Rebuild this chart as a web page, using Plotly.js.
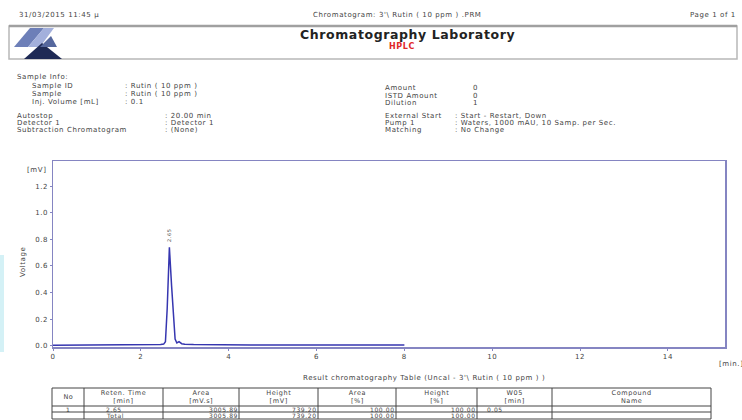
<!DOCTYPE html>
<html>
<head>
<meta charset="utf-8">
<script src="https://cdn.plot.ly/plotly-3.0.1.min.js"></script>
<style>
html,body{margin:0;padding:0;background:#fff;}
#chart{width:742px;height:420px;}
#chart text{letter-spacing:0.6px;}
</style>
</head>
<body>
<div id="chart"></div>
<script>
// ---- data ----
const retentionTime = [0, 1, 2, 2.3, 2.45, 2.52, 2.56, 2.60, 2.65, 2.70, 2.74, 2.78, 2.82, 2.87, 2.93, 3.0, 3.2, 3.6, 4.5, 6, 8];
const voltage       = [0.004, 0.004, 0.005, 0.006, 0.009, 0.012, 0.03, 0.28, 0.74, 0.45, 0.20, 0.05, 0.02, 0.03, 0.015, 0.01, 0.008, 0.006, 0.005, 0.005, 0.005];
const peakLabels = ["2.65"];
const peakTimes = [2.65];
const peakHeights = [0.74];

const xTickVals = [0, 2, 4, 6, 8, 10, 12, 14];
const yTickVals = [0.0, 0.2, 0.4, 0.6, 0.8, 1.0, 1.2];

const infoLeftLabels = ["Sample ID", "Sample", "Inj. Volume [mL]"];
const infoLeftValues = [": Rutin ( 10 ppm )", ": Rutin ( 10 ppm )", ": 0.1"];
const infoLeft2Labels = ["Autostop", "Detector 1", "Subtraction Chromatogram"];
const infoLeft2Values = [": 20.00 min", ": Detector 1", ": (None)"];
const infoRightLabels = ["Amount", "ISTD Amount", "Dilution"];
const infoRightValues = ["0", "0", "1"];
const infoRight2Labels = ["External Start", "Pump 1", "Matching"];
const infoRight2Values = [": Start - Restart, Down", ": Waters, 1000 mAU, 10 Samp. per Sec.", ": No Change"];

const tableHeaders = ["No", "Reten. Time<br>[min]", "Area<br>[mV.s]", "Height<br>[mV]", "Area<br>[%]", "Height<br>[%]", "W05<br>[min]", "Compound<br>Name"];
const tableRow1 = ["1", "2.65", "3005.89", "739.20", "100.00", "100.00", "0.05", ""];
const tableTotal = ["", "Total", "3005.89", "739.20", "100.00", "100.00", "", ""];

// ---- layout helpers (pixel -> paper) ----
const L = 53, R = 725, T = 161, B = 347;
const px = x => (x - L) / (R - L);
const py = y => (B - y) / (B - T);
const TXT = '#444444';
const FONT = 'DejaVu Sans, Verdana, sans-serif';

const annotations = [];
const shapes = [];
function txt(x, y, text, opts) {
  opts = opts || {};
  annotations.push({
    xref: 'paper', yref: 'paper', x: px(x), y: py(y), text: text, showarrow: false,
    xanchor: opts.anchor || 'left', yanchor: 'middle',
    font: {family: FONT, size: opts.size || 7, color: opts.color || TXT, weight: opts.weight || 'normal'},
    align: opts.align || 'left'
  });
}
function line(x0, y0, x1, y1, color, w) {
  shapes.push({type: 'line', xref: 'paper', yref: 'paper', x0: px(x0), y0: py(y0), x1: px(x1), y1: py(y1),
    line: {color: color || '#555', width: w || 1}});
}
function poly(points, color) {
  const d = 'M' + points.map(p => px(p[0]) + ',' + py(p[1])).join(' L') + ' Z';
  shapes.push({type: 'path', xref: 'paper', yref: 'paper', path: d, fillcolor: color, line: {width: 0}});
}

// header
txt(17, 15, '31/03/2015 11:45 μ');
txt(385, 15, "Chromatogram: 3'\\ Rutin ( 10 ppm ) .PRM", {anchor: 'center'});
txt(731, 15, 'Page 1 of 1', {anchor: 'right'});
shapes.push({type: 'rect', xref: 'paper', yref: 'paper', x0: px(9), y0: py(26), x1: px(737), y1: py(59),
  line: {color: '#b8b8b8', width: 1.5}, fillcolor: 'rgba(0,0,0,0)'});
line(9, 26, 737, 26, '#a0a0a0', 2.5);
poly([[14, 47], [30, 28], [44, 28], [28, 47]], '#6d7fb8');
poly([[28, 47], [44, 28], [54, 28], [40, 47]], '#a3b0dc');
poly([[24, 59], [42, 43], [62, 59]], '#1e2a55');
poly([[40, 47], [51, 36], [57, 47]], '#56689e');
txt(400, 35, 'Chromatography Laboratory', {anchor: 'center', size: 12.5, weight: 'bold', color: '#222'});
txt(401, 46, 'HPLC', {anchor: 'center', size: 8, weight: 'bold', color: '#e02828'});

// sample info
txt(15, 77, 'Sample Info:');
infoLeftLabels.forEach((s, i) => { txt(30, 86 + i * 8, s); txt(123, 86 + i * 8, infoLeftValues[i]); });
infoLeft2Labels.forEach((s, i) => { txt(15, 116 + i * 7, s); txt(163, 116 + i * 7, infoLeft2Values[i]); });
infoRightLabels.forEach((s, i) => { txt(383, 88 + i * 7.5, s); txt(471, 88 + i * 7.5, infoRightValues[i]); });
infoRight2Labels.forEach((s, i) => { txt(383, 116 + i * 7, s); txt(453, 116 + i * 7, infoRight2Values[i]); });

// axis units
txt(25, 170, '[mV]');
txt(742, 364, '[min.]', {anchor: 'right'});
annotations.push({xref: 'paper', yref: 'paper', x: px(17), y: py(262), text: 'Voltage', showarrow: false,
  textangle: -90, font: {family: FONT, size: 7, color: TXT}});

// peak labels
peakLabels.forEach((s, i) => {
  annotations.push({xref: 'x', yref: 'y', x: peakTimes[i], y: peakHeights[i], yshift: 12, text: s, showarrow: false,
    textangle: -90, font: {family: FONT, size: 5, color: TXT}});
});

// left scan artifact strip
shapes.push({type: 'rect', xref: 'paper', yref: 'paper', x0: px(0), y0: py(255), x1: px(4), y1: py(352),
  fillcolor: '#d4f1f6', line: {width: 0}});

// table
txt(406, 378, "Result chromatography Table (Uncal - 3'\\ Rutin ( 10 ppm ) )", {anchor: 'center'});
const colX = [52, 84, 163, 239, 318, 396, 477, 552, 711];
const rowY = [388, 406, 412, 419];
colX.forEach(x => line(x, rowY[0], x, rowY[3], '#444', 1));
rowY.forEach(y => line(colX[0], y, colX[colX.length - 1], y, '#444', 1));
tableHeaders.forEach((h, i) => {
  annotations.push({xref: 'paper', yref: 'paper', x: px((colX[i] + colX[i + 1]) / 2), y: py((rowY[0] + rowY[1]) / 2),
    text: h, showarrow: false, xanchor: 'center', yanchor: 'middle', align: 'center',
    font: {family: FONT, size: 6.5, color: TXT}});
});
function tableRow(vals, yc) {
  vals.forEach((v, i) => {
    if (!v) return;
    if (i === 0) txt((colX[0] + colX[1]) / 2, yc, v, {anchor: 'center', size: 6});
    else if (i === 1) txt(colX[1] + 20, yc, v, {size: 6});
    else if (i === 6) txt(colX[6] + 8, yc, v, {size: 6});
    else txt(colX[i + 1] - 3, yc, v, {anchor: 'right', size: 6});
  });
}
tableRow(tableRow1, (rowY[1] + rowY[2]) / 2);
tableRow(tableTotal, (rowY[2] + rowY[3]) / 2);

const trace = {
  x: retentionTime, y: voltage, type: 'scatter', mode: 'lines',
  line: {color: '#3636b0', width: 1.5}, hoverinfo: 'skip'
};

const axisCommon = {
  showline: true, mirror: true, linecolor: '#8585c2', linewidth: 1.5,
  showgrid: false, zeroline: false, ticks: 'outside', ticklen: 2, tickcolor: '#8585c2',
  tickfont: {family: FONT, size: 7, color: TXT}
};

const layout = {
  width: 742, height: 420,
  margin: {l: L, r: 742 - R, t: T, b: 420 - B, pad: 0},
  paper_bgcolor: '#ffffff', plot_bgcolor: '#ffffff',
  showlegend: false,
  xaxis: Object.assign({}, axisCommon, {range: [0, 15.3], tickvals: xTickVals, ticktext: xTickVals.map(String)}),
  yaxis: Object.assign({}, axisCommon, {range: [-0.01, 1.39], tickvals: yTickVals, ticktext: yTickVals.map(v => v.toFixed(1))}),
  annotations: annotations,
  shapes: shapes
};

Plotly.newPlot('chart', [trace], layout, {staticPlot: true, displayModeBar: false});
</script>
</body>
</html>
